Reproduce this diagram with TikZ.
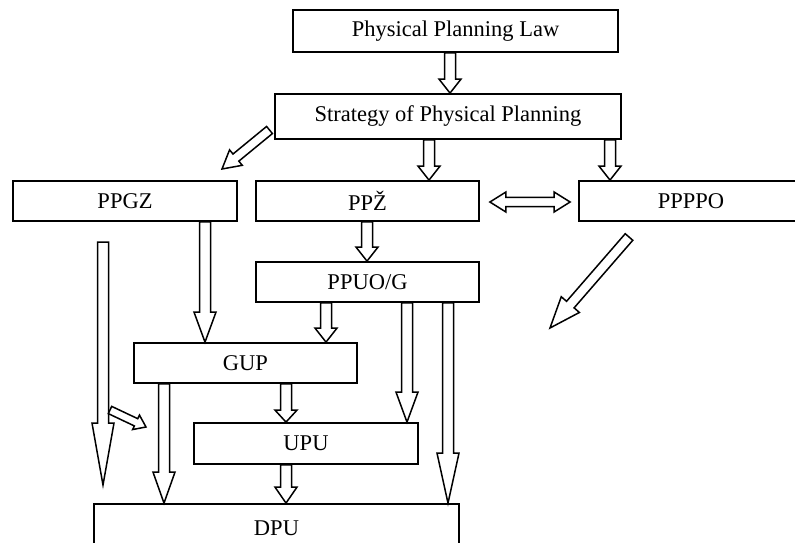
\documentclass[tikz,border=0pt]{standalone}
\usepackage{fontspec}
\setmainfont{Liberation Serif}
\usetikzlibrary{calc}
\tikzset{
  ba sw/.store in=\basw, ba hw/.store in=\bahw, ba hl/.store in=\bahl,
  ba sw=5.5pt, ba hw=11pt, ba hl=15pt,
  box/.style={draw, line width=1.8pt, inner sep=0pt, font=\fontsize{22.5}{26}\selectfont},
  barrow/.style={draw, fill=white, line width=1.5pt, line join=miter,
    to path={
      ($(\tikztotarget)!\bahl!(\tikztostart)$) coordinate (ba-h)
      ($(\tikztostart)!\basw!90:(\tikztotarget)$)
      -- ($(ba-h)!\basw!90:(\tikztotarget)$)
      -- ($(ba-h)!\bahw!90:(\tikztotarget)$)
      -- (\tikztotarget)
      -- ($(ba-h)!\bahw!-90:(\tikztotarget)$)
      -- ($(ba-h)!\basw!-90:(\tikztotarget)$)
      -- ($(\tikztostart)!\basw!-90:(\tikztotarget)$)
      -- cycle}},
  bdarrow/.style={draw, fill=white, line width=1.5pt, line join=miter,
    to path={
      ($(\tikztostart)!\bahl!(\tikztotarget)$) coordinate (ba-a)
      ($(\tikztotarget)!\bahl!(\tikztostart)$) coordinate (ba-b)
      (\tikztostart)
      -- ($(ba-a)!\bahw!90:(\tikztotarget)$)
      -- ($(ba-a)!\basw!90:(\tikztotarget)$)
      -- ($(ba-b)!\basw!90:(\tikztotarget)$)
      -- ($(ba-b)!\bahw!90:(\tikztotarget)$)
      -- (\tikztotarget)
      -- ($(ba-b)!\bahw!-90:(\tikztotarget)$)
      -- ($(ba-b)!\basw!-90:(\tikztotarget)$)
      -- ($(ba-a)!\basw!-90:(\tikztotarget)$)
      -- ($(ba-a)!\bahw!-90:(\tikztotarget)$)
      -- cycle}}
}
\begin{document}
\begin{tikzpicture}[x=1pt, y=-1pt]
\fill[white] (0,0) rectangle (795,542);
\useasboundingbox (0,0) rectangle (795,542);
\clip (0,0) rectangle (795,542);

\node[box, minimum width=325pt, minimum height=42pt] (law) at (455.5,31) {Physical Planning Law};
\node[box, minimum width=346pt, minimum height=45pt] (strat) at (448,116.5) {Strategy of Physical Planning};
\node[box, minimum width=224pt, minimum height=40pt] (ppgz) at (125,201) {PPGZ};
\node[box, minimum width=223pt, minimum height=40pt] (ppz) at (367.5,201) {PPŽ};
\node[box, minimum width=260pt, minimum height=40pt] (ppppo) at (709,201) {\hspace*{-36pt}PPPPO};
\node[box, minimum width=223pt, minimum height=40pt] (ppuo) at (367.5,282) {PPUO/G};
\node[box, minimum width=223pt, minimum height=40pt] (gup) at (245.5,363) {GUP};
\node[box, minimum width=224pt, minimum height=41pt] (upu) at (306,443.5) {UPU};
\node[box, minimum width=365pt, minimum height=48pt] (dpu) at (276.5,528) {DPU};

\coordinate (d1s) at (269.5,130);
\coordinate (d1e) at (222,169);
\coordinate (d2s) at (629,237);
\coordinate (d2e) at (550,328);
\coordinate (fls) at (103,242);
\coordinate (fle) at (103,485);
\coordinate (d3s) at (110,410);
\coordinate (d3e) at (146,427);

\draw[barrow, ba hl=14pt] (law.south -| 450,0) to (strat.north -| 450,0);
\draw[barrow, ba hl=14pt] (strat.south -| 429,0) to (ppz.north -| 429,0);
\draw[barrow, ba hl=14pt] (strat.south -| 610,0) to (ppppo.north -| 610,0);
\draw[barrow, ba hl=18pt, ba sw=4.6pt, ba hw=10pt] (d1s) to (d1e);
\draw[bdarrow, ba hl=16pt, ba sw=4.7pt, ba hw=10pt] ($(ppz.east)+(10,1)$) to ($(ppppo.west)+(-8,1)$);
\draw[barrow, ba hl=31pt, ba sw=5pt, ba hw=12pt] (d2s) to (d2e);
\draw[barrow, ba hl=14pt] (ppz.south -| 367,0) to (ppuo.north -| 367,0);
\draw[barrow, ba hl=30pt] (ppgz.south -| 205,0) to (gup.north -| 205,0);
\draw[barrow, ba hl=62pt] (fls) to (fle);
\draw[barrow, ba hl=11pt, ba sw=4pt, ba hw=8pt] (d3s) to (d3e);
\draw[barrow, ba hl=31pt] (gup.south -| 164,0) to (dpu.north -| 164,0);
\draw[barrow, ba hl=12pt] (gup.south -| 286,0) to (upu.north -| 286,0);
\draw[barrow, ba hl=14pt] (ppuo.south -| 326,0) to (gup.north -| 326,0);
\draw[barrow, ba hl=30pt] (ppuo.south -| 407,0) to (upu.north -| 407,0);
\draw[barrow, ba hl=50pt] (ppuo.south -| 448,0) to (dpu.north -| 448,0);
\draw[barrow, ba hl=16pt] (upu.south -| 286,0) to (dpu.north -| 286,0);
\end{tikzpicture}
\end{document}
